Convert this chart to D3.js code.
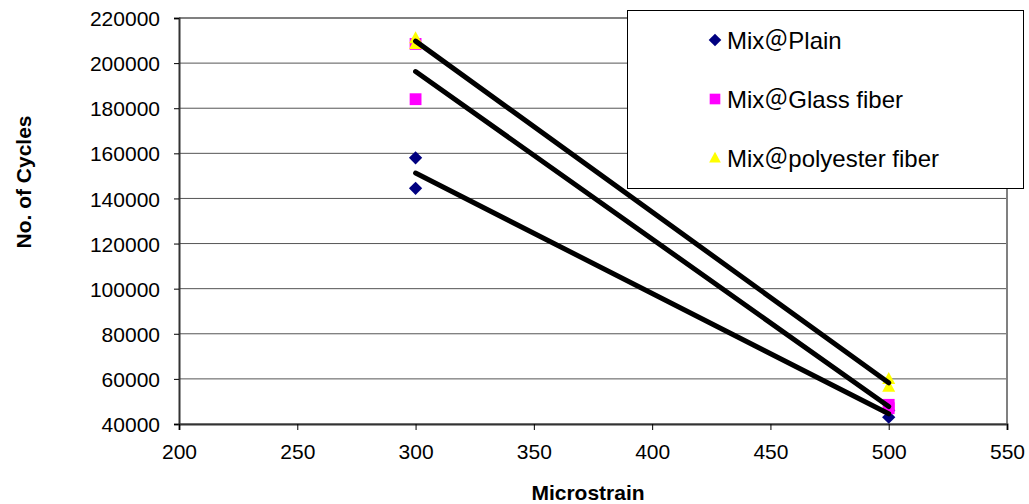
<!DOCTYPE html>
<html>
<head>
<meta charset="utf-8">
<script src="https://cdn.jsdelivr.net/npm/d3@7"></script>
<style>
  body { margin: 0; background: #fff; }
  text { font-family: "Liberation Sans", Arial, "Noto Sans CJK JP", sans-serif; }
</style>
</head>
<body>
<div id="chart"></div>
<script>
// data
var strain = [300, 300, 500, 500];
var plain = [158000, 144500, 46000, 43000];
var glass = [208500, 184000, 48500, 47000];
var polyester = [211000, 208500, 60000, 56500];
var seriesNames = ["Mix\uFF20Plain", "Mix\uFF20Glass fiber", "Mix\uFF20polyester fiber"];
var xTicks = [200, 250, 300, 350, 400, 450, 500, 550];
var yTicks = [40000, 60000, 80000, 100000, 120000, 140000, 160000, 180000, 200000, 220000];

var series = [
  { name: seriesNames[0], values: plain, color: "#000080", shape: "diamond" },
  { name: seriesNames[1], values: glass, color: "#ff00ff", shape: "square" },
  { name: seriesNames[2], values: polyester, color: "#ffff00", shape: "triangle" }
];

var W = 1029, H = 504;
var margin = { top: 18, right: 22, bottom: 80, left: 179 };

var svg = d3.select("#chart").append("svg")
    .attr("width", W)
    .attr("height", H);

var x = d3.scaleLinear().domain([200, 550]).range([margin.left, W - margin.right]);
var y = d3.scaleLinear().domain([40000, 220000]).range([H - margin.bottom, margin.top]);

// gridlines
svg.append("g").selectAll("line")
    .data(yTicks)
  .enter().append("line")
    .attr("x1", x(200)).attr("x2", x(550))
    .attr("y1", function(d) { return y(d); })
    .attr("y2", function(d) { return y(d); })
    .attr("stroke", "#555")
    .attr("stroke-width", 1);

// plot border (top / right)
svg.append("path")
    .attr("d", "M" + x(200) + "," + y(220000) + "H" + x(550) + "V" + y(40000))
    .attr("fill", "none")
    .attr("stroke", "#808080")
    .attr("stroke-width", 2);

// axes
var yAxis = svg.append("g")
    .attr("transform", "translate(" + x(200) + ",0)")
    .call(d3.axisLeft(y).tickValues(yTicks).tickSize(5).tickPadding(14).tickFormat(d3.format("d")));
var xAxis = svg.append("g")
    .attr("transform", "translate(0," + y(40000) + ")")
    .call(d3.axisBottom(x).tickValues(xTicks).tickSize(6).tickPadding(14).tickFormat(d3.format("d")));

[yAxis, xAxis].forEach(function(a) {
  a.select(".domain").attr("stroke", "#333").attr("stroke-width", 2);
  a.selectAll(".tick line").attr("stroke", "#000");
  a.selectAll(".tick text")
      .attr("fill", "#000")
      .style("font-size", "21px")
      .style("font-family", "'Liberation Sans', Arial, sans-serif");
});
yAxis.selectAll(".tick text").attr("dy", "0.36em");

// markers
function markerPath(shape) {
  if (shape == "diamond") return d3.symbol().type(d3.symbolSquare).size(88)();
  if (shape == "square") return d3.symbol().type(d3.symbolSquare).size(140)();
  return "M0,-7L6.5,5L-6.5,5Z";
}

series.forEach(function(s) {
  svg.append("g").selectAll("path")
      .data(s.values)
    .enter().append("path")
      .attr("d", markerPath(s.shape))
      .attr("transform", function(d, i) {
        return "translate(" + x(strain[i]) + "," + y(d) + ")" + (s.shape == "diamond" ? " rotate(45)" : "");
      })
      .attr("fill", s.color);
});

// linear trendlines over the points
var line = d3.line()
    .x(function(d) { return x(d[0]); })
    .y(function(d) { return y(d[1]); });

series.forEach(function(s) {
  var pts = strain.map(function(v, i) { return [v, s.values[i]]; });
  var mx = d3.mean(pts, function(p) { return p[0]; });
  var my = d3.mean(pts, function(p) { return p[1]; });
  var num = d3.sum(pts, function(p) { return (p[0] - mx) * (p[1] - my); });
  var den = d3.sum(pts, function(p) { return (p[0] - mx) * (p[0] - mx); });
  var slope = num / den, icpt = my - slope * mx;
  var ext = d3.extent(strain);
  svg.append("path")
      .datum(ext.map(function(v) { return [v, icpt + slope * v]; }))
      .attr("d", line)
      .attr("fill", "none")
      .attr("stroke", "#000")
      .attr("stroke-width", 5)
      .attr("stroke-linecap", "round");
});

// axis titles
svg.append("text")
    .attr("x", 588).attr("y", 500)
    .attr("text-anchor", "middle")
    .style("font-size", "21px")
    .style("font-weight", "bold")
    .text("Microstrain");

svg.append("text")
    .attr("transform", "translate(31,182) rotate(-90)")
    .attr("text-anchor", "middle")
    .style("font-size", "21px")
    .style("font-weight", "bold")
    .text("No. of Cycles");

// legend
var legend = svg.append("g");
legend.append("rect")
    .attr("x", 627.5).attr("y", 10.5)
    .attr("width", 396).attr("height", 178)
    .attr("fill", "#fff")
    .attr("stroke", "#000")
    .attr("stroke-width", 1);

var rowY = [40, 99, 158];
series.forEach(function(s, i) {
  legend.append("path")
      .attr("d", markerPath(s.shape))
      .attr("transform", "translate(715," + rowY[i] + ")" + (s.shape == "diamond" ? " rotate(45) scale(0.95)" : " scale(0.9)"))
      .attr("fill", s.color);
  legend.append("text")
      .attr("x", 727).attr("y", rowY[i])
      .attr("dy", "0.36em")
      .style("font-size", "24px")
      .text(s.name);
});
</script>
</body>
</html>
